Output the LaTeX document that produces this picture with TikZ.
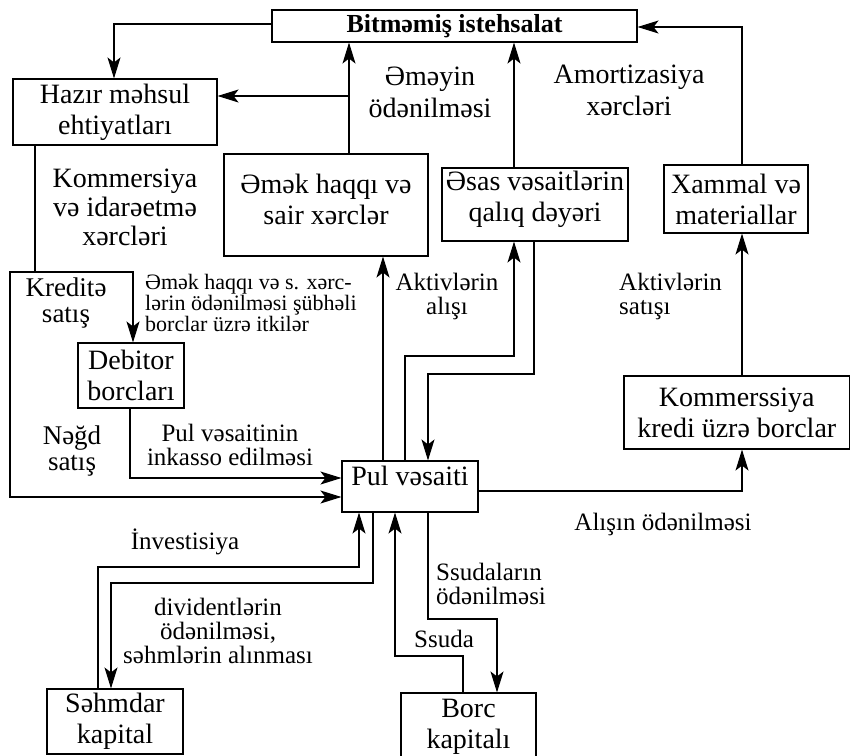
\documentclass[tikz,border=0pt]{standalone}
\usepackage{fontspec}
\setmainfont{Liberation Serif}
\usetikzlibrary{arrows.meta}
\begin{document}
\begin{tikzpicture}[x=1pt,y=-1pt,
  bx/.style={draw, line width=1.1pt, inner sep=0pt, align=center, font=\fontsize{28}{31}\selectfont},
  lbl/.style={inner sep=0pt, align=center},
  big/.style={font=\fontsize{28}{31}\selectfont},
  mid/.style={font=\fontsize{25}{24}\selectfont},
  sml/.style={font=\fontsize{22}{21}\selectfont},
  ln/.style={line width=1.1pt},
  arr/.style={line width=1.1pt, -{Stealth[length=21pt,width=13pt,inset=5pt]}}]

\useasboundingbox (0,0) rectangle (851,755);

% boxes
\node[bx, minimum width=365pt, minimum height=32pt, font=\fontsize{26}{28}\selectfont\bfseries] (bit) at (454.5,26) {Bitməmiş istehsalat};
\node[bx, minimum width=204pt, minimum height=66pt] (haz) at (115,112) {Hazır məhsul\\ehtiyatları};
\node[bx, minimum width=204pt, minimum height=102pt] (emek) at (326,205) {};
\node[lbl, big] (emektxt) at (326,199) {Əmək haqqı və\\sair xərclər};
\node[bx, minimum width=186pt, minimum height=73pt] (esas) at (535,204.5) {};
\node[lbl, big] (esastxt) at (535,199) {Əsas vəsaitlərin\\qalıq dəyəri};
\node[bx, minimum width=144pt, minimum height=68pt] (xam) at (736,199) {Xammal və\\materiallar};
\node[bx, minimum width=225.5pt, minimum height=73pt] (kom) at (736.75,412.5) {Kommerssiya\\kredi üzrə borclar};
\node[bx, minimum width=106pt, minimum height=65pt] (deb) at (131,375.5) {Debitor\\borcları};
\node[bx, minimum width=136pt, minimum height=51pt] (pul) at (410,486.5) {};
\node[lbl, big] (pultxt) at (410,476) {Pul vəsaiti};
\node[bx, minimum width=136pt, minimum height=65pt] (seh) at (115,721.5) {Səhmdar\\kapital};
\node[bx, minimum width=135pt, minimum height=68pt] (borc) at (468.5,727) {Borc\\kapitalı};

% labels
\node[lbl, font=\fontsize{28}{29}\selectfont] (komlbl) at (125,207.5) {Kommersiya\\və idarəetmə\\xərcləri};
\node[lbl, font=\fontsize{28}{32}\selectfont] (emlbl) at (430,92) {Əməyin\\ödənilməsi};
\node[lbl, font=\fontsize{28}{32}\selectfont] (amlbl) at (629,90) {Amortizasiya\\xərcləri};
\node[lbl, font=\fontsize{27}{26}\selectfont] (krlbl) at (66,303) {Kreditə\\satış};
\node[lbl, font=\fontsize{27}{26}\selectfont] (ndlbl) at (72,451) {Nəğd\\satış};
\node[lbl, sml, align=left, anchor=west] (itklbl) at (145,302.5) {Əmək haqqı və s. xərc-\\lərin ödənilməsi şübhəli\\borclar üzrə itkilər};
\node[lbl, mid] (inklbl) at (230,445) {Pul vəsaitinin\\inkasso edilməsi};
\node[lbl, mid] (alislbl) at (447,296) {Aktivlərin\\alışı};
\node[lbl, mid, align=left, anchor=west] (satlbl) at (619,296) {Aktivlərin\\satışı};
\node[lbl, mid] (odlbl) at (663,524) {Alışın ödənilməsi};
\node[lbl, mid] (invlbl) at (185,542) {İnvestisiya};
\node[lbl, mid] (divlbl) at (218,631) {dividentlərin\\ödənilməsi,\\səhmlərin alınması};
\node[lbl, mid] (sslbl) at (444,639) {Ssuda};
\node[lbl, mid, align=left, anchor=west] (ssodlbl) at (436,584) {Ssudaların\\ödənilməsi};

% helper coordinates
\coordinate (j1) at (349,96);
\coordinate (t1) at (114,24);
\coordinate (xb) at (514,0);
\coordinate (t2) at (742,27);
\coordinate (j2) at (35,272);
\coordinate (cL) at (10,272);
\coordinate (cR) at (133,272);
\coordinate (cB) at (10,497);
\coordinate (d1) at (130,478);
\coordinate (u1) at (383,0);
\coordinate (u2a) at (405,356);
\coordinate (u2b) at (514,356);
\coordinate (u3a) at (534,374);
\coordinate (u3b) at (428,374);
\coordinate (r1) at (742,491);
\coordinate (s1a) at (98,567);
\coordinate (s1b) at (359,567);
\coordinate (s2a) at (373,583);
\coordinate (s2b) at (111,583);
\coordinate (b1a) at (463,656);
\coordinate (b1b) at (395,656);
\coordinate (b2a) at (428,619);
\coordinate (b2b) at (497,619);

% connectors
\draw[arr] (bit.west |- t1) -- (t1) -- (haz.north -| t1);
\draw[arr] (emek.north -| j1) -- (bit.south -| j1);
\draw[arr] (j1) -- (haz.east |- j1);
\draw[arr] (esas.north -| xb) -- (bit.south -| xb);
\draw[arr] (xam.north -| t2) -- (t2) -- (bit.east |- t2);
\draw[ln] (haz.south -| j2) -- (j2);
\draw[arr] (j2) -- (cL) -- (cB) -- (pul.west |- cB);
\draw[arr] (j2) -- (cR) -- (deb.north -| cR);
\draw[arr] (deb.south -| d1) -- (d1) -- (pul.west |- d1);
\draw[arr] (pul.north -| u1) -- (emek.south -| u1);
\draw[arr] (pul.north -| u2a) -- (u2a) -- (u2b) -- (esas.south -| u2b);
\draw[arr] (esas.south -| u3a) -- (u3a) -- (u3b) -- (pul.north -| u3b);
\draw[arr] (pul.east |- r1) -- (r1) -- (kom.south -| r1);
\draw[arr] (kom.north -| r1) -- (xam.south -| r1);
\draw[arr] (seh.north -| s1a) -- (s1a) -- (s1b) -- (pul.south -| s1b);
\draw[arr] (pul.south -| s2a) -- (s2a) -- (s2b) -- (seh.north -| s2b);
\draw[arr] (borc.north -| b1a) -- (b1a) -- (b1b) -- (pul.south -| b1b);
\draw[arr] (pul.south -| b2a) -- (b2a) -- (b2b) -- (borc.north -| b2b);
\end{tikzpicture}
\end{document}
